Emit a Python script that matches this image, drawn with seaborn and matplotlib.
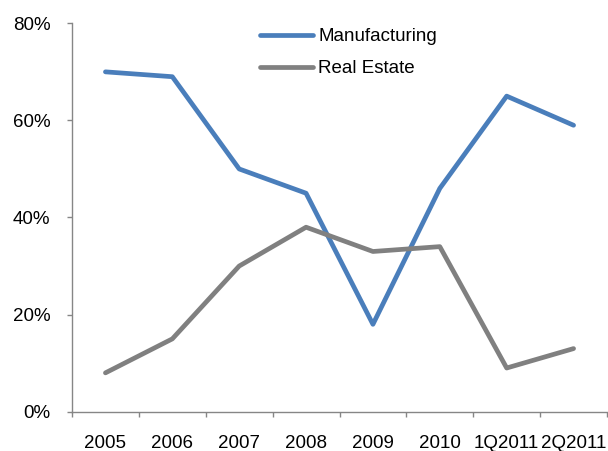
import matplotlib
matplotlib.use("Agg")
import matplotlib.pyplot as plt
import matplotlib.ticker as mticker
import numpy as np
import pandas as pd
import seaborn as sns

# Share of lending by sector
periods = ["2005", "2006", "2007", "2008", "2009", "2010", "1Q2011", "2Q2011"]
manufacturing = [70, 69, 50, 45, 18, 46, 65, 59]
real_estate = [8, 15, 30, 38, 33, 34, 9, 13]
series_names = ["Manufacturing", "Real Estate"]

df = pd.DataFrame({
    "period": periods * 2,
    "share": np.array(manufacturing + real_estate) / 100.0,
    "series": [series_names[0]] * len(periods) + [series_names[1]] * len(periods),
})

sns.set_theme(style="white")
plt.rcParams["font.family"] = ["Liberation Sans", "DejaVu Sans"]
plt.rcParams["text.color"] = "black"

fig = plt.figure(figsize=(6.08, 4.51), dpi=100)
ax = fig.add_axes([72 / 608, 1 - 411.7 / 451, 535 / 608, (411.7 - 23.3) / 451])

sns.lineplot(
    data=df, x="period", y="share", hue="series", sort=False,
    palette={"Manufacturing": "#4A7EBB", "Real Estate": "#808080"},
    linewidth=3.4, ax=ax, legend=True,
)

ax.set_xlim(-0.5, len(periods) - 0.5)
ax.set_ylim(0, 0.8)
ax.yaxis.set_major_locator(mticker.MultipleLocator(0.2))
ax.yaxis.set_major_formatter(mticker.PercentFormatter(1.0, decimals=0))

fs = 13.5
ax.set_xticks(range(len(periods)))
ax.set_xticklabels(periods)
ax.set_xticks(np.arange(-0.5, len(periods)), minor=True)
ax.tick_params(axis="x", which="major", length=0, pad=17, labelsize=fs, labelcolor="black")
ax.tick_params(axis="x", which="minor", length=3.5, width=1, color="#868686", bottom=True)
ax.tick_params(axis="y", which="major", length=3.5, width=1, color="#868686",
               left=True, labelsize=fs, labelcolor="black", pad=12)

for side in ("top", "right"):
    ax.spines[side].set_visible(False)
for side in ("left", "bottom"):
    ax.spines[side].set_color("#868686")
    ax.spines[side].set_linewidth(1)

ax.set_xlabel("")
ax.set_ylabel("")
ax.grid(False)

handles, labels = ax.get_legend_handles_labels()
leg = ax.legend(
    handles, labels, loc="upper left", frameon=False, fontsize=fs,
    bbox_to_anchor=(260 / 608, 1 - 28 / 451), bbox_transform=fig.transFigure,
    borderaxespad=0, borderpad=0, handlelength=2.8, handletextpad=0.3,
    labelspacing=0.8,
)
for t in leg.get_texts():
    t.set_color("black")

fig.savefig("out.png", dpi=100)
